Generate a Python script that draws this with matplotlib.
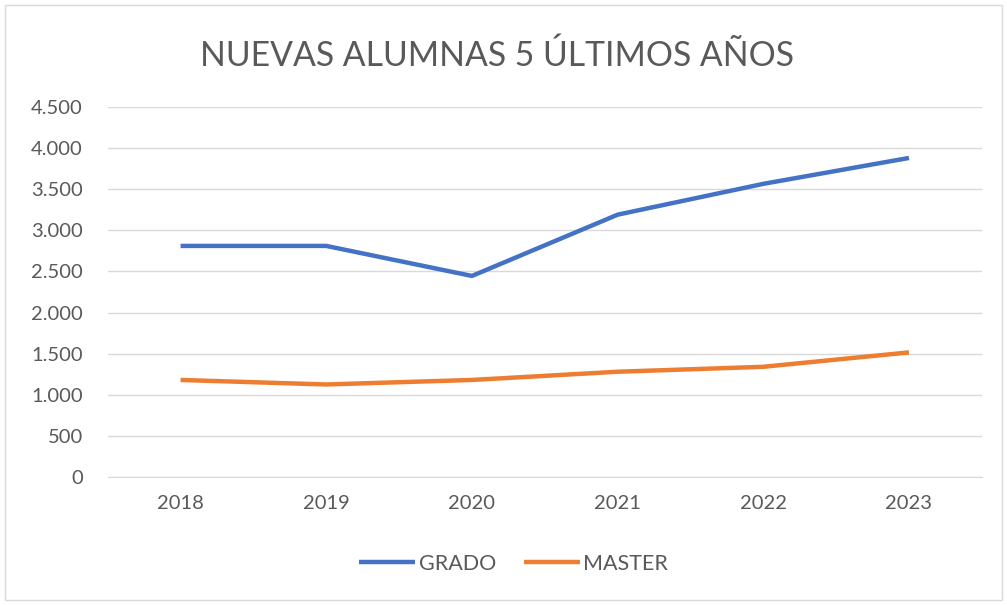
import matplotlib
matplotlib.use("Agg")
import matplotlib.pyplot as plt
from matplotlib.patches import Rectangle
from matplotlib.ticker import FuncFormatter

years = ["2018", "2019", "2020", "2021", "2022", "2023"]
grado = [2810, 2810, 2445, 3190, 3565, 3880]
master = [1180, 1125, 1180, 1280, 1340, 1515]

plt.rcParams['font.family'] = ['Lato', 'DejaVu Sans']

fig = plt.figure(figsize=(10.07, 6.05), dpi=100)
fig.patches.append(Rectangle((0.005, 0.008), 0.99, 0.984, transform=fig.transFigure,
                             fill=False, edgecolor='#d9d9d9', linewidth=1))
ax = fig.add_axes([0.107, 0.2116, 0.868, 0.6116])

x = list(range(len(years)))
ax.plot(x, grado, color='#4472C4', linewidth=3.2, label='GRADO', solid_capstyle='butt')
ax.plot(x, master, color='#ED7D31', linewidth=3.2, label='MASTER', solid_capstyle='butt')

ax.set_xlim(-0.5, len(years) - 0.5)
ax.set_ylim(0, 4500)
ax.set_yticks(range(0, 4501, 500))
ax.yaxis.set_major_formatter(FuncFormatter(lambda v, p: f"{int(v):,}".replace(",", ".")))
ax.set_xticks(x)
ax.set_xticklabels(years)
ax.grid(axis='y', color='#d9d9d9', linewidth=1)
ax.set_axisbelow(True)
for s in ['top', 'right', 'left']:
    ax.spines[s].set_visible(False)
ax.spines['bottom'].set_color('#d9d9d9')
ax.tick_params(axis='both', length=0, labelsize=14.5, colors='#595959')
ax.tick_params(axis='x', pad=13)
ax.tick_params(axis='y', pad=18)

fig.text(0.494, 0.908, "NUEVAS ALUMNAS 5 ÚLTIMOS AÑOS", ha='center', va='center',
         fontsize=24.3, color='#595959')

fig.legend(loc='center', bbox_to_anchor=(0.51, 0.068), ncol=2, frameon=False,
           fontsize=15.5, handlelength=2.6, columnspacing=1.3, handletextpad=0.15,
           labelcolor='#595959')

fig.savefig("out.png", dpi=100, facecolor='white')
